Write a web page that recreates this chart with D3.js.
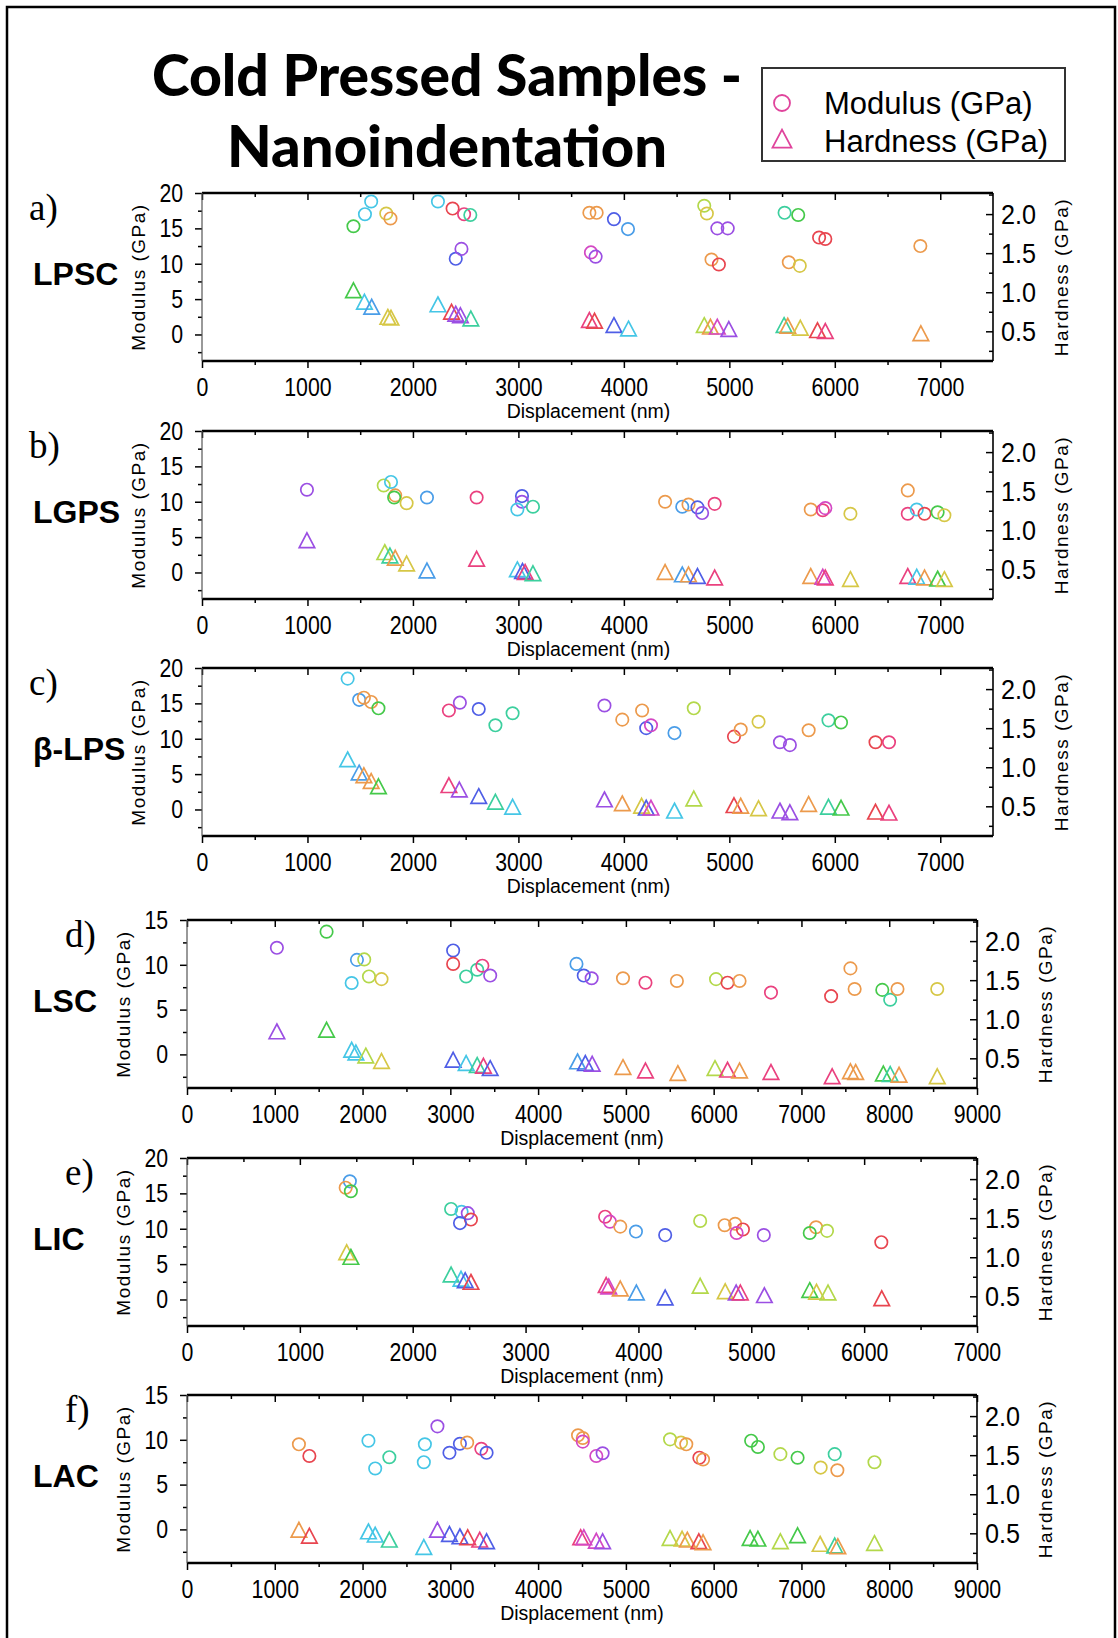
<!DOCTYPE html>
<html lang="en">
<head>
<meta charset="UTF-8">
<title>Cold Pressed Samples - Nanoindentation</title>
<script src="https://d3js.org/d3.v7.min.js"></script>
<style>
  body { margin: 0; background: #fff; }
  svg { display: block; font-family: "Liberation Sans", Arial, sans-serif; }
  .title { font-family: Lato, "Open Sans", sans-serif; font-weight: 900; font-size: 57px; }
  .legend-text { font-size: 31px; }
  .letter { font-family: "Liberation Serif", "Times New Roman", serif; font-size: 37px; }
  .name { font-weight: bold; font-size: 32px; }
  .axis-title { font-size: 19.5px; }
  .y-title { font-size: 19px; letter-spacing: 1.5px; }
</style>
</head>
<body>
<svg width="1118" height="1638"></svg>
<script>
// [displacement nm, value GPa, colour group]
const lpscModulus = [
  [1436,15.3,'g'],[1545,17.0,'c'],[1604,18.8,'c'],[1747,17.1,'y'],[1787,16.4,'o'],[2237,18.8,'c'],
  [2376,17.8,'r'],[2485,17.0,'n'],[2544,16.9,'t'],[2406,10.7,'b'],[2460,12.1,'p'],[3673,17.2,'o'],
  [3742,17.2,'o'],[3688,11.6,'m'],[3732,11.0,'p'],[3906,16.3,'b'],[4039,14.9,'k'],[4762,18.2,'l'],
  [4787,17.1,'y'],[4886,15.0,'p'],[4985,15.0,'p'],[4831,10.6,'o'],[4901,9.9,'r'],[5524,17.2,'t'],
  [5653,16.9,'g'],[5851,13.7,'r'],[5910,13.5,'r'],[5564,10.2,'o'],[5668,9.7,'y'],[6811,12.5,'o']
];
const lpscHardness = [
  [1436,1.0,'g'],[1540,0.853,'c'],[1609,0.79,'k'],[1762,0.66,'y'],[1792,0.65,'y'],[2237,0.82,'c'],
  [2366,0.725,'r'],[2406,0.70,'p'],[2450,0.68,'p'],[2549,0.64,'t'],[3673,0.62,'n'],[3722,0.61,'r'],
  [3906,0.555,'b'],[4044,0.51,'c'],[4762,0.555,'l'],[4821,0.535,'o'],[4886,0.535,'m'],[4995,0.505,'p'],
  [5519,0.555,'t'],[5554,0.547,'o'],[5673,0.52,'y'],[5836,0.49,'r'],[5910,0.48,'n'],[6816,0.45,'o']
];
const lgpsModulus = [
  [995,11.7,'p'],[1723,12.3,'l'],[1792,12.8,'c'],[1832,10.9,'o'],[1822,10.6,'g'],[1940,9.8,'y'],
  [2133,10.6,'k'],[2604,10.6,'n'],[3034,10.8,'b'],[3034,10.0,'p'],[2990,8.9,'c'],[3138,9.3,'t'],
  [4391,10.0,'o'],[4554,9.3,'k'],[4613,9.6,'o'],[4698,9.2,'b'],[4742,8.4,'p'],[4861,9.7,'n'],
  [5772,8.9,'o'],[5886,8.8,'n'],[5910,9.1,'m'],[6148,8.3,'y'],[6692,11.6,'o'],[6692,8.3,'n'],
  [6777,8.9,'c'],[6851,8.3,'r'],[6975,8.5,'g'],[7039,8.1,'y']
];
const lgpsHardness = [
  [995,0.847,'p'],[1733,0.695,'l'],[1782,0.653,'t'],[1832,0.623,'o'],[1940,0.55,'y'],[2133,0.46,'k'],
  [2604,0.61,'n'],[2990,0.475,'c'],[3039,0.453,'b'],[3064,0.44,'n'],[3138,0.424,'t'],[4391,0.44,'o'],
  [4554,0.41,'k'],[4613,0.41,'o'],[4698,0.39,'b'],[4861,0.37,'n'],[5772,0.39,'o'],[5886,0.38,'m'],
  [5910,0.37,'n'],[6148,0.35,'y'],[6692,0.39,'n'],[6777,0.38,'c'],[6851,0.37,'o'],[6975,0.356,'g'],
  [7039,0.35,'y']
];
const blpsModulus = [
  [1381,18.5,'c'],[1490,15.5,'k'],[1535,15.8,'o'],[1604,15.2,'o'],[1673,14.3,'g'],[2341,14.0,'n'],
  [2445,15.1,'p'],[2624,14.2,'b'],[2782,11.9,'t'],[2945,13.6,'t'],[3816,14.7,'p'],[3985,12.7,'o'],
  [4173,14.0,'o'],[4212,11.5,'b'],[4257,11.9,'m'],[4480,10.8,'k'],[4663,14.3,'l'],[5044,10.3,'r'],
  [5108,11.3,'o'],[5277,12.4,'y'],[5480,9.5,'p'],[5574,9.1,'p'],[5752,11.2,'o'],[5940,12.6,'t'],
  [6059,12.3,'g'],[6386,9.5,'r'],[6514,9.5,'n']
];
const blpsHardness = [
  [1381,1.076,'c'],[1490,0.907,'k'],[1535,0.873,'o'],[1604,0.80,'o'],[1673,0.733,'g'],[2341,0.746,'n'],
  [2440,0.69,'p'],[2624,0.606,'b'],[2782,0.534,'t'],[2945,0.47,'c'],[3816,0.564,'p'],[3985,0.513,'o'],
  [4168,0.483,'y'],[4212,0.458,'b'],[4257,0.458,'m'],[4480,0.42,'c'],[4663,0.576,'l'],[5044,0.49,'r'],
  [5108,0.483,'o'],[5277,0.45,'y'],[5480,0.42,'p'],[5574,0.40,'p'],[5752,0.504,'o'],[5940,0.47,'t'],
  [6059,0.458,'g'],[6386,0.407,'r'],[6514,0.394,'n']
];
const lscModulus = [
  [1024,11.9,'p'],[1590,13.7,'g'],[1936,10.55,'k'],[2019,10.6,'l'],[1876,7.97,'c'],[2073,8.7,'l'],
  [2216,8.4,'y'],[3032,11.6,'b'],[3032,10.1,'r'],[3180,8.7,'t'],[3306,9.45,'t'],[3365,9.9,'n'],
  [3454,8.8,'p'],[4437,10.1,'k'],[4520,8.8,'b'],[4610,8.5,'p'],[4967,8.5,'o'],[5223,8.0,'n'],
  [5581,8.2,'o'],[6027,8.4,'l'],[6158,8.0,'r'],[6295,8.2,'o'],[6653,6.9,'n'],[7338,6.5,'r'],
  [7558,9.6,'o'],[7606,7.3,'o'],[7921,7.2,'g'],[8011,6.1,'t'],[8094,7.3,'o'],[8547,7.3,'y']
];
const lscHardness = [
  [1024,0.82,'p'],[1590,0.84,'g'],[1876,0.585,'c'],[1924,0.55,'c'],[2037,0.51,'l'],[2216,0.44,'y'],
  [3032,0.457,'b'],[3180,0.415,'c'],[3306,0.39,'t'],[3377,0.38,'n'],[3454,0.35,'b'],[4449,0.436,'k'],
  [4538,0.415,'b'],[4616,0.406,'p'],[4967,0.363,'o'],[5223,0.32,'n'],[5592,0.286,'o'],[6015,0.35,'l'],
  [6158,0.33,'n'],[6295,0.32,'o'],[6653,0.30,'n'],[7350,0.245,'n'],[7558,0.31,'o'],[7618,0.30,'o'],
  [7933,0.28,'g'],[8011,0.275,'t'],[8112,0.265,'o'],[8547,0.245,'y']
];
const licModulus = [
  [1443,16.7,'k'],[1406,15.8,'o'],[1452,15.3,'g'],[2340,12.8,'t'],[2433,12.4,'c'],[2488,12.2,'p'],
  [2516,11.3,'r'],[2419,10.8,'b'],[3705,11.7,'n'],[3747,11.0,'m'],[3839,10.3,'o'],[3978,9.6,'k'],
  [4237,9.1,'b'],[4547,11.1,'l'],[4764,10.5,'o'],[4857,10.7,'o'],[4926,9.9,'r'],[4870,9.4,'m'],
  [5111,9.1,'p'],[5574,10.2,'o'],[5518,9.4,'g'],[5671,9.7,'l'],[6152,8.1,'r']
];
const licHardness = [
  [1415,1.04,'y'],[1452,0.98,'g'],[2340,0.754,'t'],[2428,0.70,'c'],[2465,0.68,'b'],[2516,0.66,'r'],
  [3714,0.62,'n'],[3737,0.60,'m'],[3839,0.576,'o'],[3982,0.525,'k'],[4237,0.46,'b'],[4547,0.61,'l'],
  [4769,0.54,'y'],[4866,0.525,'p'],[4903,0.525,'n'],[5116,0.49,'p'],[5518,0.555,'g'],[5578,0.534,'y'],
  [5680,0.525,'l'],[6156,0.45,'r']
];
const lacModulus = [
  [1275,9.5,'o'],[1394,8.2,'r'],[2067,9.9,'c'],[2144,6.8,'c'],[2305,8.06,'t'],[2698,7.5,'c'],
  [2710,9.5,'c'],[2853,11.5,'p'],[2990,8.55,'b'],[3109,9.56,'b'],[3192,9.7,'o'],[3353,9.0,'n'],
  [3413,8.55,'b'],[4455,10.5,'o'],[4509,10.2,'o'],[4509,9.8,'m'],[4663,8.2,'m'],[4735,8.5,'p'],
  [5503,10.05,'l'],[5628,9.7,'y'],[5688,9.5,'o'],[5837,8.0,'r'],[5879,7.8,'o'],[6427,9.9,'g'],
  [6504,9.2,'g'],[6760,8.4,'l'],[6956,8.0,'g'],[7379,8.4,'t'],[7219,6.9,'y'],[7409,6.6,'o'],
  [7832,7.5,'l']
];
const lacHardness = [
  [1275,0.52,'o'],[1394,0.445,'r'],[2067,0.50,'c'],[2144,0.458,'c'],[2305,0.394,'t'],[2698,0.30,'c'],
  [2853,0.52,'p'],[2990,0.466,'b'],[3109,0.436,'b'],[3198,0.424,'r'],[3335,0.394,'n'],[3413,0.373,'b'],
  [4485,0.424,'n'],[4521,0.424,'m'],[4663,0.38,'m'],[4735,0.373,'p'],[5503,0.415,'l'],[5640,0.407,'y'],
  [5700,0.394,'o'],[5831,0.373,'r'],[5879,0.36,'o'],[6415,0.415,'g'],[6504,0.407,'g'],[6760,0.373,'l'],
  [6956,0.45,'g'],[7213,0.34,'y'],[7379,0.32,'t'],[7415,0.31,'o'],[7832,0.35,'l']
];

const hardnessTicks = [0.5, 1.0, 1.5, 2.0];
const legendLabels = ["Modulus (GPa)", "Hardness (GPa)"];

const panels = [
  { letter: "a)", name: "LPSC",  modulus: lpscModulus, hardness: lpscHardness, xMax: 7500, mMax: 20 },
  { letter: "b)", name: "LGPS",  modulus: lgpsModulus, hardness: lgpsHardness, xMax: 7500, mMax: 20 },
  { letter: "c)", name: "β-LPS", modulus: blpsModulus, hardness: blpsHardness, xMax: 7500, mMax: 20 },
  { letter: "d)", name: "LSC",   modulus: lscModulus,  hardness: lscHardness,  xMax: 9000, mMax: 15 },
  { letter: "e)", name: "LIC",   modulus: licModulus,  hardness: licHardness,  xMax: 7000, mMax: 20 },
  { letter: "f)", name: "LAC",   modulus: lacModulus,  hardness: lacHardness,  xMax: 9000, mMax: 15 }
];

const tone = d3.scaleOrdinal(
  ['r','o','y','l','g','t','c','k','b','p','m','n'],
  ['#e8454f','#ec9a4c','#d6c746','#b3d84a','#45c94a','#3ccf9e','#45c6e6','#4a9de8','#4f5ee6','#9b4fe3','#d448c4','#ea417f']
);

const svg = d3.select("svg");
const tri = s => `M0,${-s * 0.6}L${s / 2},${s * 0.35}L${-s / 2},${s * 0.35}Z`;

// outer frame
svg.append("rect")
  .attr("x", 7).attr("y", 7).attr("width", 1108).attr("height", 1680)
  .attr("fill", "none").attr("stroke", "#000").attr("stroke-width", 2.5);

// title
svg.append("text").attr("class", "title")
  .attr("x", 447).attr("y", 96).attr("text-anchor", "middle")
  .attr("textLength", 590).attr("lengthAdjust", "spacingAndGlyphs")
  .text("Cold Pressed Samples -");
svg.append("text").attr("class", "title")
  .attr("x", 447).attr("y", 167).attr("text-anchor", "middle")
  .attr("textLength", 440).attr("lengthAdjust", "spacingAndGlyphs")
  .text("Nanoindentation");

// legend
const legend = svg.append("g");
legend.append("rect")
  .attr("x", 762).attr("y", 68).attr("width", 303).attr("height", 93)
  .attr("fill", "#fff").attr("stroke", "#333").attr("stroke-width", 2);
legend.append("circle")
  .attr("cx", 782).attr("cy", 103).attr("r", 8)
  .attr("fill", "none").attr("stroke", "#e0449c").attr("stroke-width", 1.8);
legend.append("path")
  .attr("d", tri(19)).attr("transform", "translate(782,141)")
  .attr("fill", "none").attr("stroke", "#e0449c").attr("stroke-width", 1.8);
legend.selectAll("text.legend-text").data(legendLabels).join("text")
  .attr("class", "legend-text")
  .attr("x", 824).attr("y", (d, i) => 114 + i * 38)
  .text(d => d);

function styleAxis(g) {
  g.select(".domain").remove();
  g.selectAll(".tick line").attr("stroke", "#000").attr("stroke-width", 1.5);
}
function narrowText(g, size, sx) {
  g.selectAll("text")
    .attr("font-family", '"Liberation Sans", Arial, sans-serif')
    .attr("font-size", size)
    .attr("fill", "#000")
    .attr("transform", `scale(${sx},1)`);
}

const panelTops = [193, 431, 668, 920, 1158, 1395];
const panelH = 168;

panels.forEach((p, i) => {
  const top = panelTops[i], bottom = top + panelH, mid = (top + bottom) / 2;
  const left = i < 3 ? 202 : 187, right = i < 3 ? 993 : 977;

  const x = d3.scaleLinear().domain([0, p.xMax]).range([left, right]);
  const m = d3.scaleLinear().domain([-3.75, p.mMax]).range([bottom, top]);
  const h = d3.scaleLinear().domain([0.12, 2.27]).range([bottom, top]);

  const g = svg.append("g");

  const majorX = d3.range(0, p.xMax + 1, 1000);
  const minorX = d3.range(500, p.xMax, 1000);
  const majorM = d3.range(0, p.mMax + 1, 5);
  const minorM = d3.range(-2.5, p.mMax, 5);
  const minorH = [0.25, 0.75, 1.25, 1.75, 2.25];

  // bottom axis
  g.append("g").attr("transform", `translate(0,${bottom})`)
    .call(d3.axisBottom(x).tickValues(majorX).tickSize(7).tickPadding(10).tickFormat(d3.format("d")))
    .call(styleAxis).call(narrowText, 26, 0.82);
  g.append("g").attr("transform", `translate(0,${bottom})`)
    .call(d3.axisBottom(x).tickValues(minorX).tickSize(4).tickFormat(""))
    .call(styleAxis);
  // top axis (inward ticks)
  g.append("g").attr("transform", `translate(0,${top})`)
    .call(d3.axisTop(x).tickValues(majorX).tickSize(-7).tickFormat(""))
    .call(styleAxis);
  g.append("g").attr("transform", `translate(0,${top})`)
    .call(d3.axisTop(x).tickValues(minorX).tickSize(-4).tickFormat(""))
    .call(styleAxis);
  // left axis: modulus
  g.append("g").attr("transform", `translate(${left},0)`)
    .call(d3.axisLeft(m).tickValues(majorM).tickSize(7).tickPadding(16))
    .call(styleAxis).call(narrowText, 26, 0.82);
  g.append("g").attr("transform", `translate(${left},0)`)
    .call(d3.axisLeft(m).tickValues(minorM).tickSize(4).tickFormat(""))
    .call(styleAxis);
  // right axis: hardness (inward ticks)
  g.append("g").attr("transform", `translate(${right},0)`)
    .call(d3.axisRight(h).tickValues(hardnessTicks).tickSize(-7).tickPadding(9).tickFormat(d3.format(".1f")))
    .call(styleAxis).call(narrowText, 28, 0.9);
  g.append("g").attr("transform", `translate(${right},0)`)
    .call(d3.axisRight(h).tickValues(minorH).tickSize(-4).tickFormat(""))
    .call(styleAxis);

  // frame
  g.append("line").attr("x1", left).attr("x2", right).attr("y1", top).attr("y2", top)
    .attr("stroke", "#000").attr("stroke-width", 2.5);
  g.append("line").attr("x1", left).attr("x2", right).attr("y1", bottom).attr("y2", bottom)
    .attr("stroke", "#000").attr("stroke-width", 2.5);
  g.append("line").attr("x1", left).attr("x2", left).attr("y1", top).attr("y2", bottom)
    .attr("stroke", "#555").attr("stroke-width", 1.2);
  g.append("line").attr("x1", right).attr("x2", right).attr("y1", top).attr("y2", bottom)
    .attr("stroke", "#000").attr("stroke-width", 1.6);

  // markers
  g.selectAll("circle.mod").data(p.modulus).join("circle")
    .attr("class", "mod")
    .attr("cx", d => x(d[0])).attr("cy", d => m(d[1])).attr("r", 6.2)
    .attr("fill", "none").attr("stroke", d => tone(d[2])).attr("stroke-width", 1.7);
  g.selectAll("path.hard").data(p.hardness).join("path")
    .attr("class", "hard")
    .attr("d", tri(15.5))
    .attr("transform", d => `translate(${x(d[0])},${h(d[1])})`)
    .attr("fill", "none").attr("stroke", d => tone(d[2])).attr("stroke-width", 1.7);

  // titles
  g.append("text").attr("class", "axis-title")
    .attr("x", (left + right) / 2 - (i < 3 ? 9 : 0)).attr("y", bottom + 57)
    .attr("text-anchor", "middle").text("Displacement (nm)");
  g.append("text").attr("class", "y-title")
    .attr("transform", `translate(${left - 64},${mid}) rotate(-90)`)
    .attr("text-anchor", "middle").attr("dy", "0.35em").text("Modulus (GPa)");
  g.append("text").attr("class", "y-title")
    .attr("transform", `translate(${right + 68},${mid}) rotate(-90)`)
    .attr("text-anchor", "middle").attr("dy", "0.35em").text("Hardness (GPa)");

  g.append("text").attr("class", "letter")
    .attr("x", i < 3 ? 29 : 65).attr("y", top + 27).text(p.letter);
  g.append("text").attr("class", "name")
    .attr("x", 33).attr("y", mid + 8).text(p.name);
});
</script>
</body>
</html>
